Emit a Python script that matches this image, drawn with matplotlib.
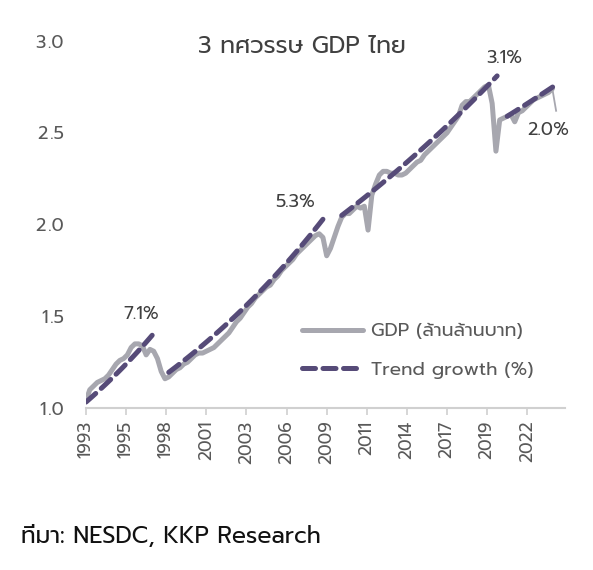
import matplotlib
matplotlib.use("Agg")
import matplotlib.pyplot as plt
import numpy as np

plt.rcParams['font.family'] = ['Prompt', 'DejaVu Sans']
plt.rcParams['text.kerning_factor'] = 6

# GDP ไตรมาส (ล้านล้านบาท), 1993Q1 - 2024Q2
gdp = [1.04, 1.10, 1.12, 1.14,
       1.15, 1.16, 1.18, 1.21,
       1.24, 1.26, 1.27, 1.29,
       1.33, 1.35, 1.35, 1.34,
       1.29, 1.32, 1.31, 1.27,
       1.20, 1.16, 1.17, 1.19,
       1.21, 1.22, 1.24, 1.25,
       1.27, 1.29, 1.30, 1.30,
       1.31, 1.32, 1.33, 1.35,
       1.37, 1.39, 1.41, 1.44,
       1.47, 1.49, 1.52, 1.55,
       1.57, 1.60, 1.62, 1.64,
       1.66, 1.67, 1.70, 1.72,
       1.75, 1.77, 1.79, 1.81,
       1.84, 1.86, 1.88, 1.90,
       1.92, 1.94, 1.95, 1.93,
       1.83, 1.87, 1.93, 1.99,
       2.04, 2.06, 2.06, 2.08,
       2.10, 2.09, 2.10, 1.97,
       2.16, 2.22, 2.27, 2.29,
       2.29, 2.28, 2.28, 2.27,
       2.27, 2.28, 2.30, 2.32,
       2.34, 2.35, 2.38, 2.40,
       2.42, 2.44, 2.46, 2.48,
       2.50, 2.53, 2.56, 2.59,
       2.65, 2.67, 2.67, 2.69,
       2.71, 2.73, 2.75, 2.76,
       2.66, 2.40, 2.57, 2.58,
       2.59, 2.60, 2.56, 2.61,
       2.62, 2.64, 2.66, 2.68,
       2.69, 2.70, 2.71, 2.72,
       2.74, 2.62]
t = 1993 + np.arange(len(gdp)) / 4

# trend growth segments: start/end year, start level, growth per year
trend_t0 = [1993.0, 1998.5, 2010.0, 2021.0]
trend_t1 = [1997.4, 2008.75, 2020.33, 2024.2]
trend_v0 = [1.033, 1.195, 2.05, 2.59]
trend_g = [0.071, 0.053, 0.031, 0.020]
trend_lbl = ['7.1%', '5.3%', '3.1%', '2.0%']
lbl_pos = [(1996.7, 1.51), (2006.9, 2.12), (2020.8, 2.905), (2023.72, 2.51)]

y_ticks = [1.0, 1.5, 2.0, 2.5, 3.0]
tick_years = [1993, 1995, 1998, 2001, 2003, 2006, 2009, 2011, 2014, 2017, 2019, 2022]
tick_pos = 1993 + np.arange(len(tick_years)) * 8 / 3

gray = '#a7a7af'
purple = '#564b78'
txt = '#404040'

fig = plt.figure(figsize=(5.93, 5.70), dpi=100)
ax = fig.add_axes([0.145, 0.284, 0.808, 0.644])

ax.plot(t[:-1], gdp[:-1], color=gray, lw=3.6, solid_joinstyle='round',
        solid_capstyle='round', label='GDP (ล้านล้านบาท)')
ax.plot(t[-2:], gdp[-2:], color=gray, lw=1.3)
for i in range(len(trend_t0)):
    tt = np.linspace(trend_t0[i], trend_t1[i], 40)
    vv = trend_v0[i] * (1 + trend_g[i]) ** (tt - trend_t0[i])
    ax.plot(tt, vv, color=purple, lw=3.6, ls=(0, (2.6, 1.5)), dash_capstyle='round',
            label='Trend growth (%)' if i == 0 else None)
    ax.text(lbl_pos[i][0], lbl_pos[i][1], trend_lbl[i], ha='center', va='center',
            fontsize=13, color=txt)

ax.set_xlim(1993, 2024.85)
ax.set_ylim(1.0, 3.0)
ax.set_yticks(y_ticks)
ax.set_yticklabels([f'{v:.1f}'.replace('.', '\u200a.') for v in y_ticks])
ax.set_xticks(tick_pos)
ax.set_xticklabels([str(y) for y in tick_years], rotation=90)
ax.tick_params(axis='y', length=0, labelsize=13, labelcolor='#595959', pad=16)
ax.tick_params(axis='x', length=5, color='#d0d0d0', width=1.2, labelsize=12.5,
               labelcolor='#595959', pad=4)
for s in ['top', 'right', 'left']:
    ax.spines[s].set_visible(False)
ax.spines['bottom'].set_color('#d0d0d0')
ax.spines['bottom'].set_linewidth(1.5)

leg = ax.legend(loc='upper left', bbox_to_anchor=(0.451, 0.232), frameon=False,
                borderaxespad=0, borderpad=0, fontsize=13.5, handlelength=3.25,
                labelspacing=1.15, handletextpad=0.42)
for tx in leg.get_texts():
    tx.set_color('#595959')

fig.text(0.51, 0.918, '3 ทศวรรษ GDP ไทย', ha='center', va='center', fontsize=17, color=txt)
fig.text(0.035, 0.058, 'ที่มา: NESDC, KKP Research', ha='left', va='center', fontsize=16.8,
         color='#111111')

fig.savefig('out.png', dpi=100)
